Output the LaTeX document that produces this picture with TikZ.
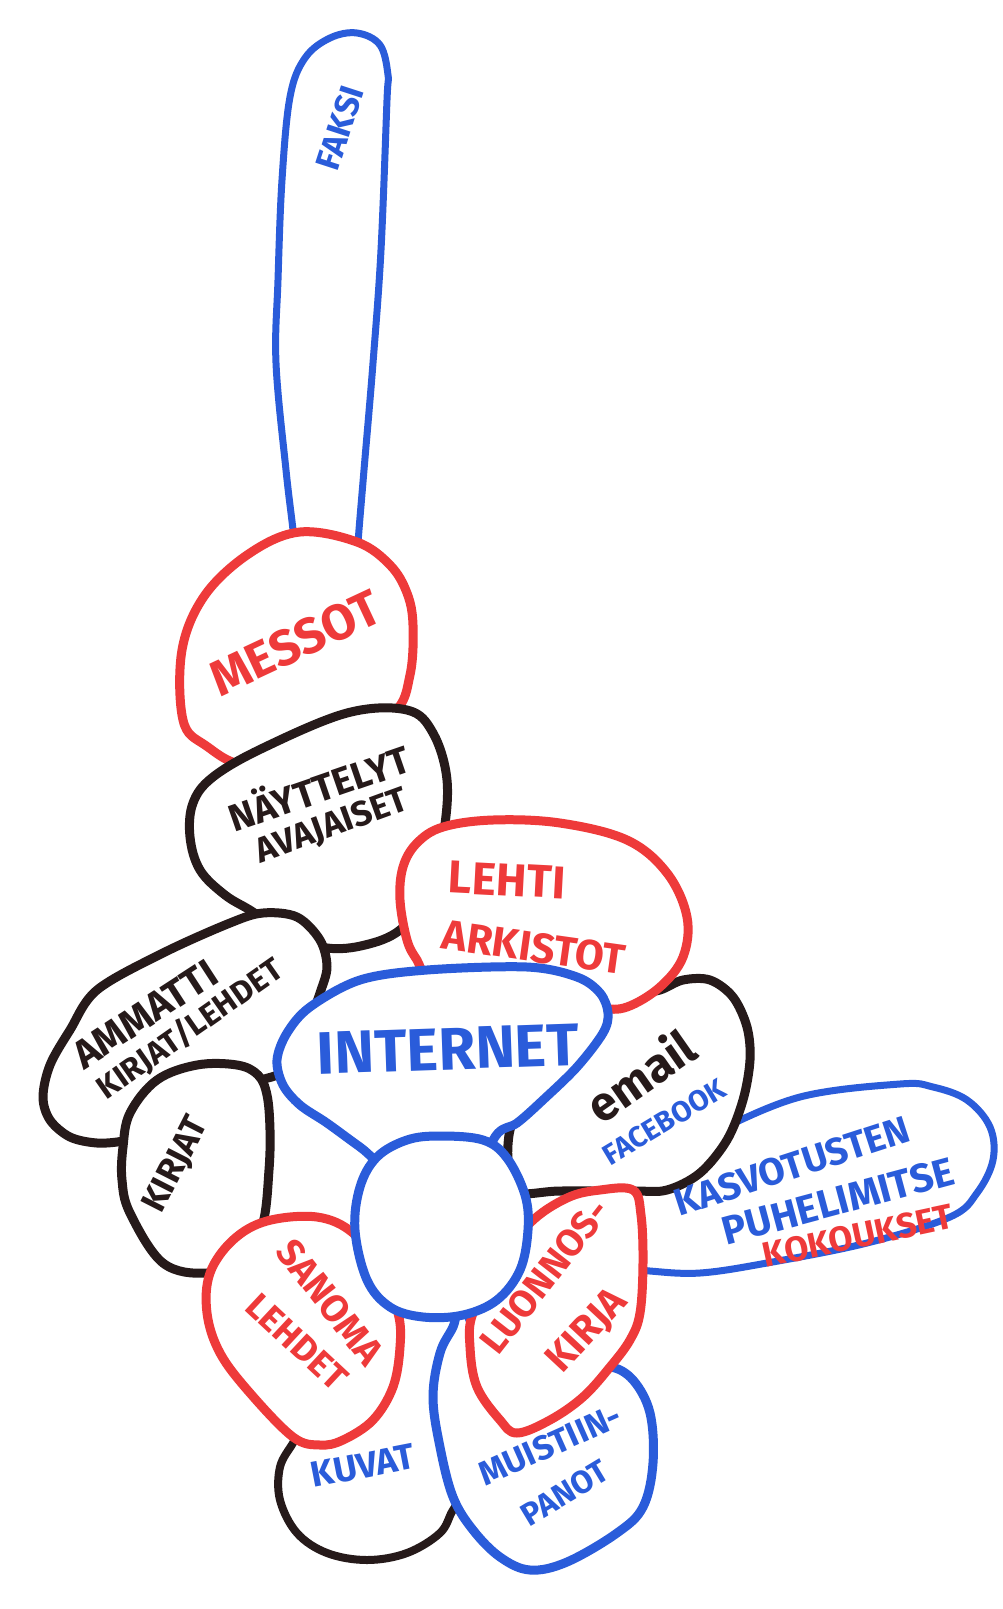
\documentclass[tikz,border=0pt]{standalone}
\usepackage{fontspec}
\setmainfont{Fira Sans}
\definecolor{penred}{RGB}{238,58,58}
\definecolor{penblue}{RGB}{42,92,218}
\definecolor{penblack}{RGB}{38,26,26}
\tikzset{
  blob/.style={draw=#1, fill=white, line width=9pt, line join=round, line cap=round},
  stroke/.style={draw=#1, line width=7pt, line join=round, line cap=round},
  lbl/.style={inner sep=0pt, font=\bfseries},
}
\newcommand{\fsz}[1]{\fontsize{#1}{#1}\selectfont\bfseries}
\begin{document}
\begin{tikzpicture}[x=1pt,y=-1pt]
\fill[white] (0,0) rectangle (1003,1609);
\useasboundingbox (0,0) rectangle (1003,1609);

% --- shapes, from back to front ---
% fax finger
\draw[stroke=penblue] plot[smooth, tension=0.6] coordinates {
  (296,565) (293,530) (286,470) (276,363) (278,280) (282,180) (290,97)
  (305,58) (330,38) (357,33) (380,45) (388,75) (387,100) (381,250)
  (373,363) (364,470) (358,543) (357,570)};
% fairs
\draw[blob=penred] plot[smooth cycle, tension=0.6] coordinates {
  (183,720) (182,650) (205,595) (250,553) (300,532) (357,542) (390,565)
  (407,593) (413,625) (410,675) (393,713) (330,742) (250,765) (205,745)};
% exhibitions
\draw[blob=penblack] plot[smooth cycle, tension=0.6] coordinates {
  (190,837) (193,803) (213,777) (263,748) (347,713) (407,710) (433,733)
  (447,780) (443,837) (428,895) (400,930) (365,945) (327,948) (285,935)
  (253,912) (225,895) (200,870)};
% trade books and journals
\draw[blob=penblack] plot[smooth cycle, tension=0.55] coordinates {
  (43,1097) (50,1065) (70,1030) (97,990) (163,953) (230,923) (263,913)
  (297,917) (320,940) (327,967) (320,993) (310,1020) (298,1050)
  (280,1073) (262,1080) (230,1095) (170,1118) (135,1135) (123,1141)
  (97,1143) (70,1137) (50,1120)};
% face to face / phone meetings
\draw[stroke=penblue] plot[smooth, tension=0.6] coordinates {
  (632,1268) (650,1271) (700,1273) (767,1263) (867,1243) (950,1217)
  (977,1193) (993,1160) (990,1127) (967,1100) (933,1087) (900,1084)
  (800,1097) (713,1133) (695,1145)};
% email
\draw[blob=penblack] plot[smooth cycle, tension=0.55] coordinates {
  (660,990) (683,980) (710,980) (733,997) (747,1027) (750,1060)
  (743,1100) (727,1140) (700,1173) (667,1190) (633,1191) (560,1191)
  (515,1192) (508,1160) (510,1130) (520,1112) (560,1065) (600,1012)
  (633,995)};
% newspaper archives
\draw[blob=penred] plot[smooth cycle, tension=0.6] coordinates {
  (400,900) (403,867) (417,843) (443,827) (493,820) (560,823) (627,840)
  (667,873) (687,917) (683,957) (660,987) (627,1007) (600,1008)
  (560,1000) (480,988) (430,977) (417,960) (407,940)};
% books
\draw[blob=penblack] plot[smooth cycle, tension=0.6] coordinates {
  (123,1147) (130,1113) (157,1080) (197,1065) (237,1065) (258,1075)
  (267,1095) (270,1130) (269,1170) (263,1223) (245,1258) (207,1273)
  (163,1263) (130,1213) (122,1180)};
% internet
\draw[blob=penblue] plot[smooth cycle, tension=0.55] coordinates {
  (310,1007) (287,1033) (277,1060) (283,1085) (300,1105) (327,1123)
  (360,1147) (400,1175) (470,1170) (498,1133) (517,1123) (543,1100)
  (577,1067) (603,1033) (608,1013) (600,993) (577,977) (527,967)
  (427,970) (360,980)};
% pictures
\draw[stroke=penblack, line width=8pt] plot[smooth, tension=0.6] coordinates {
  (300,1430) (293,1443) (280,1467) (280,1500) (297,1533) (327,1553)
  (367,1560) (407,1553) (440,1533) (453,1510) (468,1490)};
% newspapers
\draw[blob=penred] plot[smooth cycle, tension=0.6] coordinates {
  (353,1233) (317,1217) (267,1221) (233,1240) (210,1273) (207,1313)
  (220,1353) (250,1393) (293,1437) (320,1445) (343,1440) (373,1420)
  (393,1387) (400,1347) (398,1313) (380,1270)};
% notes
\draw[blob=penblue] plot[smooth cycle, tension=0.6] coordinates {
  (453,1327) (440,1353) (433,1397) (440,1447) (453,1497) (473,1530)
  (500,1557) (530,1570) (567,1562) (617,1533) (643,1507) (653,1463)
  (650,1413) (633,1380) (610,1367) (585,1375) (530,1400) (485,1350)
  (462,1305)};
% sketchbook
\draw[blob=penred] plot[smooth cycle, tension=0.6] coordinates {
  (530,1223) (567,1198) (600,1190) (633,1190) (641,1215) (643,1263)
  (640,1313) (630,1340) (610,1367) (583,1397) (550,1420) (517,1433)
  (500,1420) (477,1387) (470,1347) (473,1313) (500,1265)};
% empty centre
\draw[blob=penblue] plot[smooth cycle, tension=0.6] coordinates {
  (440,1136) (483,1140) (507,1158) (525,1195) (528,1230) (520,1270)
  (497,1300) (463,1315) (423,1317) (390,1307) (367,1280) (355,1230)
  (360,1187) (377,1157) (407,1140)};

% --- labels ---
\node[lbl, penblue, rotate=72, font=\fsz{34}] (faksi) at (340,128) {FAKSI};
\node[lbl, penred, rotate=25, font=\fsz{50}] (messot) at (295,643) {MESSOT};
\node[lbl, penblack, rotate=19, font=\fsz{38}] (nayttelyt) at (318,785) {NÄYTTELYT};
\node[lbl, penblack, rotate=20, font=\fsz{35}] (avajaiset) at (332,827) {AVAJAISET};
\node[lbl, penblack, rotate=33, font=\fsz{40}] (ammatti) at (145,1014) {AMMATTI};
\node[lbl, penblack, rotate=35, font=\fsz{32}] (kirjatlehdet) at (190,1029) {KIRJAT/LEHDET};
\node[lbl, penblack, rotate=63, font=\fsz{35}] (kirjat) at (177,1165) {KIRJAT};
\node[lbl, penred, rotate=-3, font=\fsz{46}] (lehti) at (507,880) {LEHTI};
\node[lbl, penred, rotate=-8, font=\fsz{42}] (arkistot) at (534,947) {ARKISTOT};
\node[lbl, penblue, rotate=2, font=\fsz{60}] (internet) at (448,1049) {INTERNET};
\node[lbl, penblack, rotate=35, font=\fsz{48}] (email) at (640,1075) {email};
\node[lbl, penblue, rotate=31, font=\fsz{29}] (facebook) at (664,1122) {FACEBOOK};
\node[lbl, penblue, rotate=18, font=\fsz{38}] (kasvotusten) at (792,1166) {KASVOTUSTEN};
\node[lbl, penblue, rotate=15, font=\fsz{40}] (puhelimitse) at (838,1201) {PUHELIMITSE};
\node[lbl, penred, rotate=12, font=\fsz{35}] (kokoukset) at (858,1236) {KOKOUKSET};
\node[lbl, penred, rotate=-52, font=\fsz{38}] (sanoma) at (330,1302) {SANOMA};
\node[lbl, penred, rotate=-43, font=\fsz{36}] (lehdet) at (297,1342) {LEHDET};
\node[lbl, penblue, rotate=11, font=\fsz{36}] (kuvat) at (363,1466) {KUVAT};
\node[lbl, penblue, rotate=24, font=\fsz{34}] (muistiin) at (550,1445) {MUISTIIN-};
\node[lbl, penblue, rotate=31, font=\fsz{32}] (panot) at (565,1493) {PANOT};
\node[lbl, penred, rotate=52, font=\fsz{38}] (luonnos) at (545,1276) {LUONNOS-};
\node[lbl, penred, rotate=47, font=\fsz{40}] (kirja) at (588,1332) {KIRJA};
\end{tikzpicture}
\end{document}
